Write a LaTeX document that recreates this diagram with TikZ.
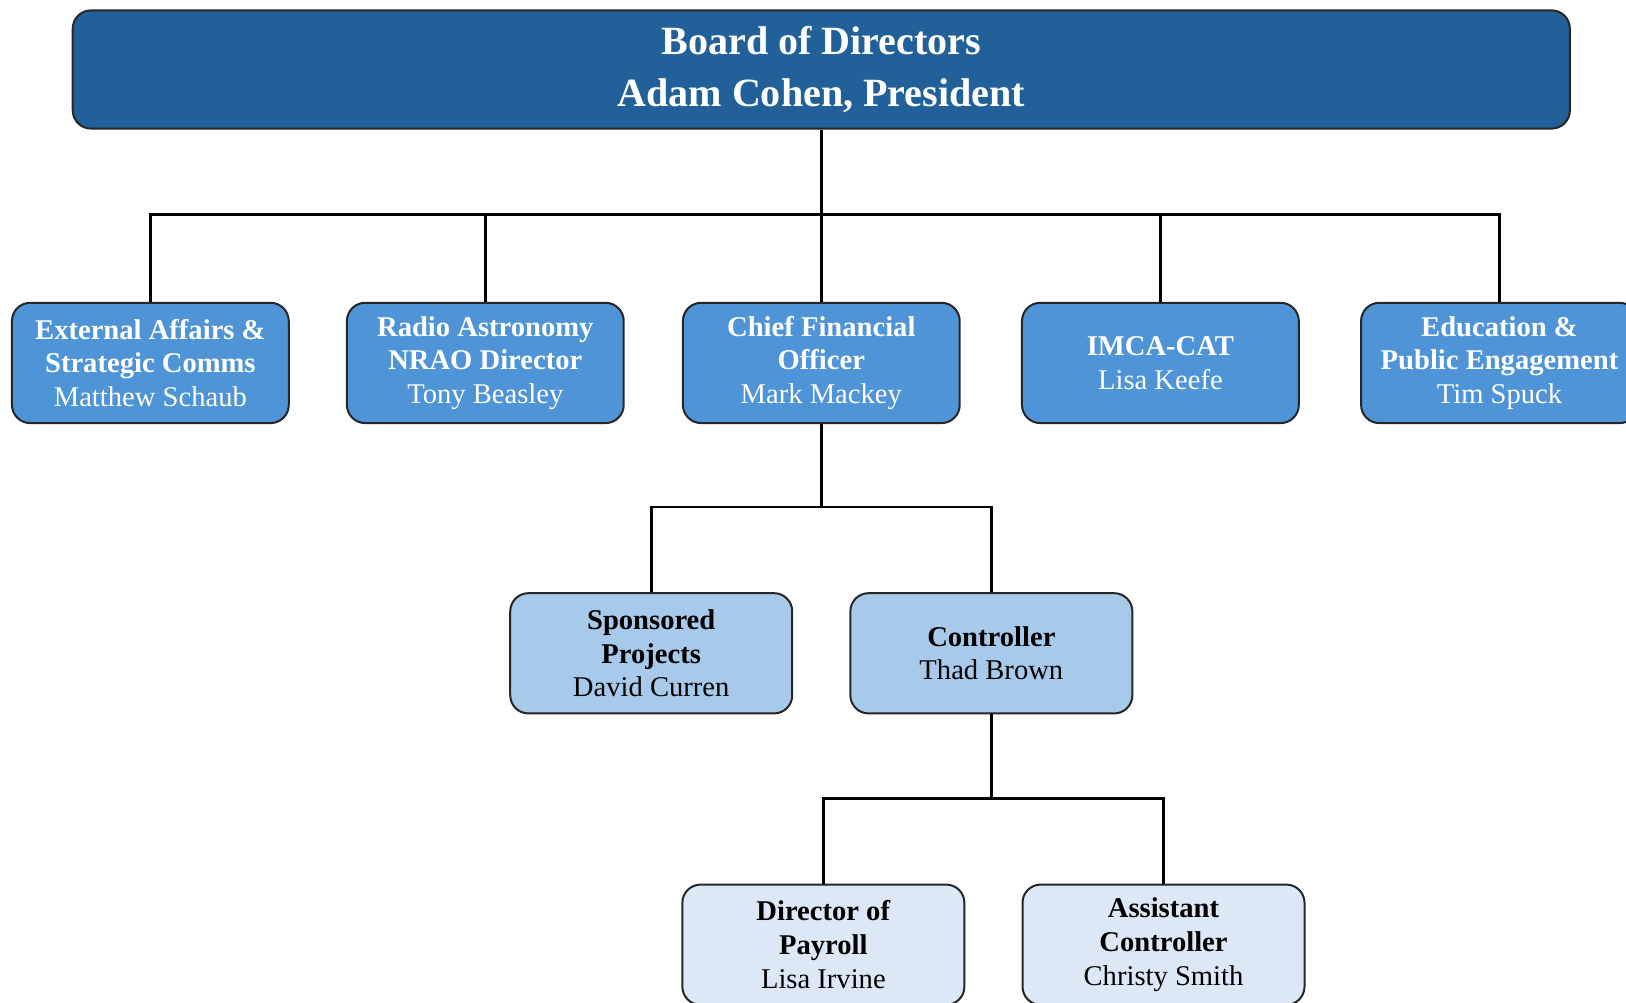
\documentclass[tikz,border=0pt]{standalone}
\usepackage{fontspec}
\setmainfont{Liberation Serif}
\definecolor{boardblue}{RGB}{34,96,154}
\definecolor{unitblue}{RGB}{80,148,216}
\definecolor{subblue}{RGB}{167,201,234}
\definecolor{paleblue}{RGB}{220,232,246}

\begin{document}
\begin{tikzpicture}[x=0.02cm, y=-0.02cm,
    box/.style={rectangle, draw=black!85, line width=1.1pt, rounded corners=10pt, minimum width=5.34cm, minimum height=2.32cm, inner sep=2pt, align=center, font=\fontsize{15.7}{18.5}\selectfont},
    board/.style={box, fill=boardblue, text=white, minimum width=28.88cm, minimum height=2.28cm, font=\fontsize{22}{29}\selectfont\bfseries},
    unit/.style={box, fill=unitblue, text=white},
    dept/.style={box, fill=subblue, minimum width=5.44cm},
    office/.style={box, fill=paleblue, minimum width=5.44cm},
    link/.style={draw=black, line width=1.4pt}]

\useasboundingbox (0,0) rectangle (1568,967);
\clip (0,0) rectangle (1568,967);

\node [board] (board) at (792,67) {Board of Directors\\Adam Cohen, President};

\node [unit] (extaff) at (145,350) {\textbf{External Affairs \&}\\\textbf{Strategic Comms}\\Matthew Schaub};
\node [unit] (radio) at (468,350) {\textbf{Radio Astronomy}\\\textbf{NRAO Director}\\Tony Beasley};
\node [unit] (cfo) at (792,350) {\textbf{Chief Financial}\\\textbf{Officer}\\Mark Mackey};
\node [unit] (imca) at (1119,350) {\textbf{IMCA-CAT}\\Lisa Keefe};
\node [unit] (edu) at (1446,350) {\textbf{Education \&}\\\textbf{Public Engagement}\\Tim Spuck};

\node [dept] (sponsored) at (628,630) {\textbf{Sponsored}\\\textbf{Projects}\\David Curren};
\node [dept] (controller) at (956,630) {\textbf{Controller}\\Thad Brown};

\node [office] (payroll) at (794,911) {\textbf{Director of}\\\textbf{Payroll}\\Lisa Irvine};
\node [office] (asst) at (1122,911) {\textbf{Assistant}\\\textbf{Controller}\\Christy Smith};

\coordinate (bus) at (792,207);
\coordinate (fork1) at (792,489);
\coordinate (fork2) at (956,770);

\draw [link] (board.south) -- (cfo.north);
\draw [link] (extaff.north) |- (bus) -| (edu.north);
\draw [link] (radio.north) -- (radio.north |- bus);
\draw [link] (imca.north) -- (imca.north |- bus);

\draw [link] (cfo.south) -- (fork1);
\draw [link] (sponsored.north) |- (fork1) -| (controller.north);

\draw [link] (controller.south) -- (fork2);
\draw [link] (payroll.north) |- (fork2) -| (asst.north);

\end{tikzpicture}
\end{document}
